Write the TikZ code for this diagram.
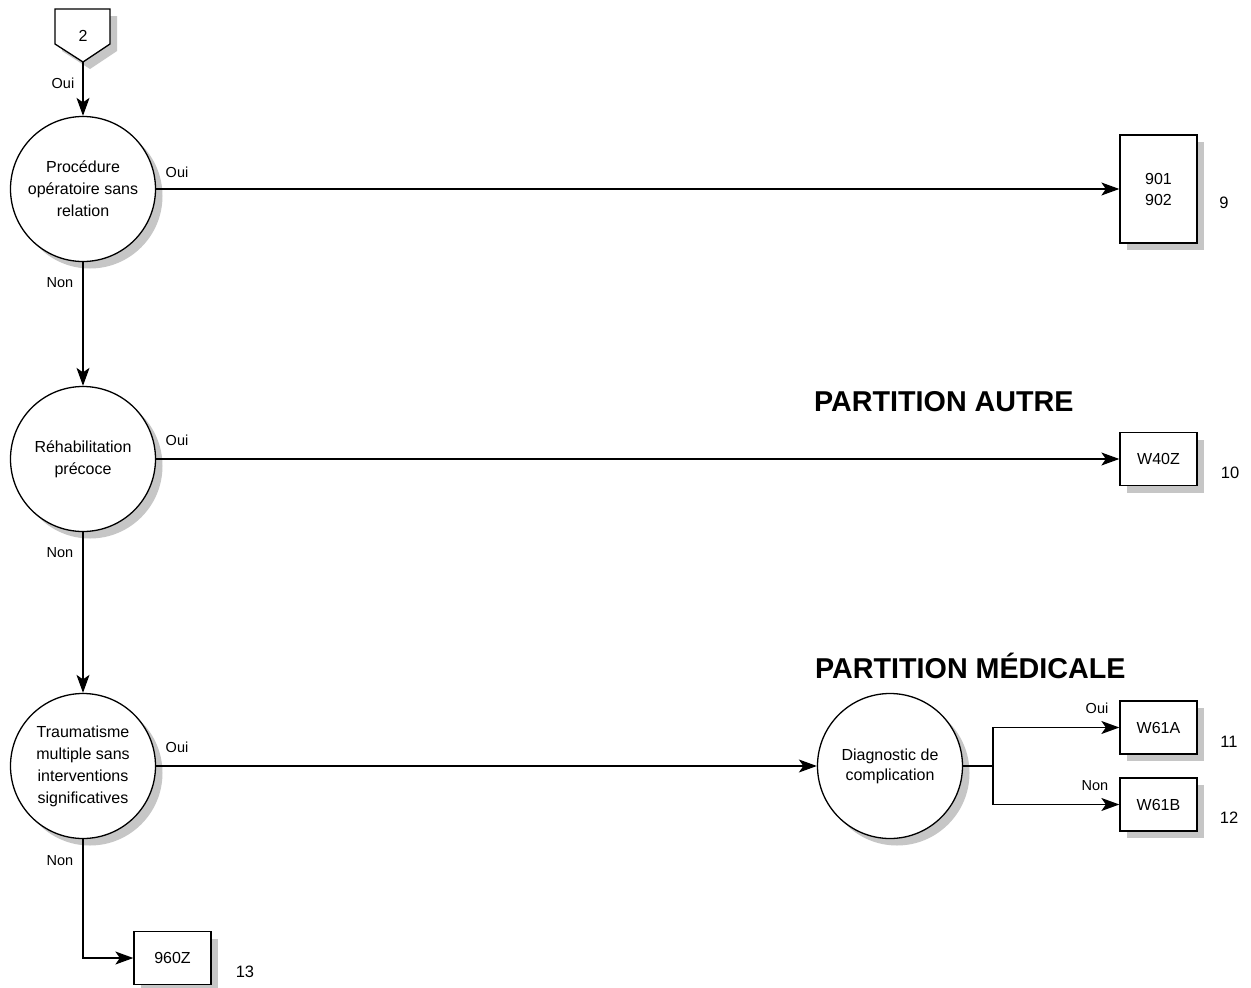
\documentclass[tikz,border=0pt]{standalone}
\usepackage{fontspec}
\setmainfont{Liberation Sans}
\usetikzlibrary{shadows,arrows.meta}
\begin{document}
\begin{tikzpicture}[x=1pt,y=-1pt,
 shad/.style={drop shadow={shadow xshift=7pt,shadow yshift=-7pt,fill=gray!45,opacity=1}},
 dec/.style={circle,draw,line width=1.3pt,fill=white,minimum size=145pt,inner sep=0pt,align=center,font=\fontsize{16}{22}\selectfont,shad},
 box/.style={rectangle,draw,line width=1.3pt,fill=white,minimum width=77pt,minimum height=53pt,inner sep=0pt,align=center,font=\fontsize{16}{21}\selectfont,shad},
 lab/.style={font=\fontsize{14.5}{17}\selectfont,inner sep=0pt},
 num/.style={font=\fontsize{16.5}{20}\selectfont,inner sep=0pt},
 ttl/.style={font=\fontsize{28.7}{32}\selectfont\bfseries,inner sep=0pt,anchor=base west},
 arr/.style={line width=1.3pt,-{Stealth[length=18pt,width=13pt,inset=4.5pt]}},
 ln/.style={line width=1.3pt}]
\fill[white] (0,0) rectangle (1251,988);
\useasboundingbox (0,0) rectangle (1251,988);

% off-page connector
\fill[gray!45] (62,16) -- (117,16) -- (117,51) -- (90,69) -- (62,51) -- cycle;
\draw[ln,fill=white] (55,9) -- (110,9) -- (110,44) -- (83,62) -- (55,44) -- cycle;
\node[font=\fontsize{16}{20}\selectfont,inner sep=0pt] (n2) at (83,36) {2};
\coordinate (p2) at (83,62);

% decisions
\node[dec] (c1) at (83,189) {Procédure\\opératoire sans\\relation};
\node[dec] (c2) at (83,459) {Réhabilitation\\précoce};
\node[dec] (c3) at (83,766) {Traumatisme\\multiple sans\\interventions\\significatives};
\node[dec,font=\fontsize{16}{20}\selectfont] (cd) at (890,766) {Diagnostic de\\complication};

% boxes
\node[box,minimum height=108pt] (b9) at (1158.5,189) {901\\902};
\node[box] (b10) at (1158.5,459) {W40Z};
\node[box] (b11) at (1158.5,727.5) {W61A};
\node[box] (b12) at (1158.5,804.5) {W61B};
\node[box] (b13) at (172.5,958) {960Z};

% titles
\node[ttl] (t1) at (814,411) {PARTITION AUTRE};
\node[ttl] (t2) at (815,678) {PARTITION MÉDICALE};

% numbers
\node[num] (k9) at (1224,203) {9};
\node[num] (k10) at (1230,473) {10};
\node[num] (k11) at (1229,742) {11};
\node[num] (k12) at (1229,818) {12};
\node[num] (k13) at (245,972) {13};

% connectors
\draw[arr] (p2) -- (c1.north);
\draw[arr] (c1.east) -- (b9.west);
\draw[arr] (c1.south) -- (c2.north);
\draw[arr] (c2.east) -- (b10.west);
\draw[arr] (c2.south) -- (c3.north);
\draw[arr] (c3.east) -- (cd.west);
\coordinate (br) at (993,766);
\draw[ln] (cd.east) -- (br);
\draw[arr] (br) |- (b11.west);
\draw[arr] (br) |- (b12.west);
\draw[arr] (c3.south) |- (b13.west);

% labels
\node[lab] (l1) at (63,83) {Oui};
\node[lab] (l2) at (177,172) {Oui};
\node[lab] (l3) at (60,283) {Non};
\node[lab] (l4) at (177,440) {Oui};
\node[lab] (l5) at (60,553) {Non};
\node[lab] (l6) at (177,747) {Oui};
\node[lab] (l7) at (60,861) {Non};
\node[lab] (l8) at (1097,708) {Oui};
\node[lab] (l9) at (1095,786) {Non};
\end{tikzpicture}
\end{document}
